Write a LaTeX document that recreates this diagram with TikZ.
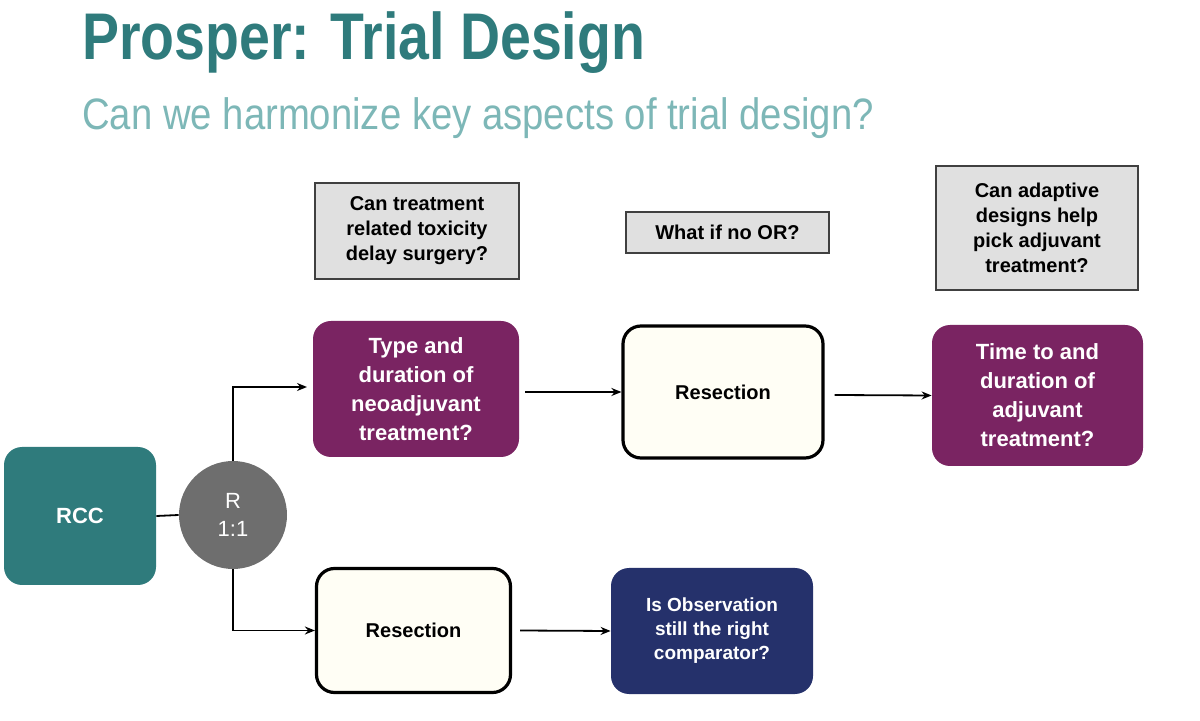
\documentclass[tikz,border=0pt]{standalone}
\usepackage{fontspec}
\setmainfont{Liberation Sans}
\usetikzlibrary{arrows.meta}
\definecolor{teal1}{HTML}{2F7B7C}
\definecolor{teal2}{HTML}{7DB7B7}
\definecolor{purp}{HTML}{7A2462}
\definecolor{navy}{HTML}{25316B}
\definecolor{graybox}{HTML}{E0E0E0}
\definecolor{rgray}{HTML}{6E6E6E}
\begin{document}
\begin{tikzpicture}[x=0.5pt,y=-0.5pt,
  qbox/.style={draw=black!75,fill=graybox,line width=0.6pt,align=center,font=\bfseries\fontsize{10}{12.5}\selectfont},
  pbox/.style={fill=purp,text=white,rounded corners=9pt,align=center,font=\bfseries\fontsize{11}{14.5}\selectfont},
  rbox/.style={draw=black,line width=1.6pt,fill=white!96!yellow,rounded corners=9pt,align=center,font=\bfseries\fontsize{10}{12}\selectfont},
  arr/.style={-{Stealth[length=5pt,width=4pt]},line width=0.9pt}]
\useasboundingbox (0,0) rectangle (1200,721);
\node[anchor=base west,text=teal1,font=\bfseries\fontsize{33}{36}\selectfont,xscale=0.84,inner sep=0] (t) at (82,60) {Prosper: Trial Design};
\node[anchor=base west,text=teal2,font=\fontsize{22}{26}\selectfont,xscale=0.87,inner sep=0] (s) at (82,130) {Can we harmonize key aspects of trial design?};
\node[qbox,minimum width=102pt,minimum height=48pt] (q1) at (417,231) {Can treatment\\related toxicity\\delay surgery?};
\node[qbox,minimum width=101.5pt,minimum height=20.5pt] (q2) at (727.5,232.5) {What if no OR?};
\node[qbox,minimum width=101pt,minimum height=62pt] (q3) at (1037,228) {Can adaptive\\designs help\\pick adjuvant\\treatment?};
\node[pbox,minimum width=103pt,minimum height=68pt] (p1) at (416,389) {Type and\\duration of\\neoadjuvant\\treatment?};
\node[rbox,minimum width=100pt,minimum height=66pt] (r1) at (723,392) {Resection};
\node[pbox,minimum width=105.5pt,minimum height=70.5pt] (p2) at (1037.5,395.5) {Time to and\\duration of\\adjuvant\\treatment?};
\node[fill=teal1,text=white,rounded corners=9pt,minimum width=76pt,minimum height=69pt,font=\bfseries\fontsize{11}{13}\selectfont] (rcc) at (80,516) {RCC};
\node[circle,fill=rgray,text=white,minimum size=54pt,align=center,font=\fontsize{11}{14}\selectfont] (c) at (233,515) {R\\1:1};
\node[rbox,minimum width=97pt,minimum height=62pt] (r2) at (413.5,630.5) {Resection};
\node[fill=navy,text=white,rounded corners=9pt,minimum width=101pt,minimum height=63pt,align=center,font=\bfseries\fontsize{9.5}{12}\selectfont] (n) at (712,631) {Is Observation\\still the right\\comparator?};
\draw[line width=0.9pt] (rcc.east) -- (c.west);
\draw[arr] (c.north) |- (307,387);
\draw[arr] (c.south) |- (r2.west);
\draw[arr] (p1.east) ++(6,3) -- (r1.west);
\draw[arr] (r1.east) ++(10,3) -- (p2.west);
\draw[arr] (r2.east) ++(8,0) -- (n.west);
\end{tikzpicture}
\end{document}
